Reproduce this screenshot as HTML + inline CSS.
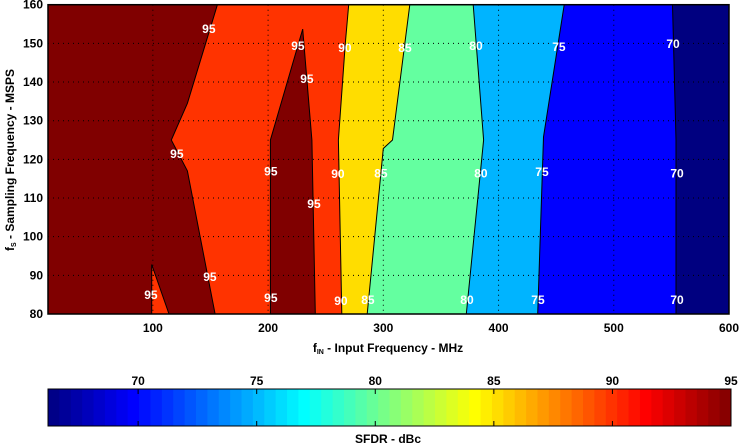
<!DOCTYPE html>
<html><head><meta charset="utf-8"><style>
body{margin:0;background:#fff;}
svg{display:block;font-family:"Liberation Sans",Arial,sans-serif;}
</style></head><body>
<svg id="c" width="739" height="445" xmlns="http://www.w3.org/2000/svg"></svg>
<script>
const xTicks=[100,200,300,400,500,600];
const yTicks=[80,90,100,110,120,130,140,150,160];
const cbTicks=[70,75,80,85,90,95];
// contour boundaries: [fin, fs] points, from fs=160 down to fs=80
const b95=[[156,160],[130,134.5],[116,125],[130,117],[154,80]];
const b90=[[270,160],[267,150],[261,125],[264,80]];
const b85=[[323,160],[308,125],[300,122.8],[286,80]];
const b80=[[378,160],[387,125],[372,80]];
const b75=[[457,160],[439,125.8],[434,80]];
const b70=[[551,160],[554,125],[554,80]];
const tri95=[[99,92.8],[114,80],[99,80]];
const spike95=[[202,80],[202,125],[230,153.7],[238,125],[241,80]];
const labelVals=[95,95,95,95,95,95,95,95,95,90,90,90,85,85,85,80,80,80,75,75,75,70,70,70];
const labelFin=[148.6,225.9,233.7,120.8,202.4,239.8,149.5,98.3,202.4,266.7,260.6,263.2,318.8,297.9,286.6,380.4,384.7,372.6,452.4,437.7,434.2,551.4,554.9,554.9];
const labelFs=[153.7,149.3,140.8,121.4,116.8,108.5,89.6,84.9,84.1,148.8,116.2,83.3,148.8,116.4,83.6,149.3,116.4,83.6,149.0,116.7,83.6,149.8,116.4,83.6];

const X0=48,X1=729,Y0=4.7,Y1=314,xmin=9,xmax=600,ymin=80,ymax=160;
const sx=v=>X0+(v-xmin)/(xmax-xmin)*(X1-X0);
const sy=v=>Y1-(v-ymin)/(ymax-ymin)*(Y1-Y0);
const cbMin=66.2,cbMax=95,CB0=48,CB1=731,CBT=389,CBB=426;
const cx=v=>CB0+(v-cbMin)/(cbMax-cbMin)*(CB1-CB0);
const svg=document.getElementById('c');
const NS='http://www.w3.org/2000/svg';
function mk(t,a,txt){const e=document.createElementNS(NS,t);for(const k in a)e.setAttribute(k,a[k]);if(txt!=null)e.textContent=txt;svg.appendChild(e);return e;}
function pts(arr){return arr.map(p=>sx(p[0]).toFixed(1)+','+sy(p[1]).toFixed(1)).join(' ');}
function leftPoly(b){return sx(xmin)+','+sy(160)+' '+pts(b)+' '+sx(xmin)+','+sy(80);}

let e=mk('rect',{x:X0,y:Y0,width:X1-X0,height:Y1-Y0,fill:'#000080'});


const bands=[[b70,'#0000ff','region-70-75'],[b75,'#00b4ff','region-75-80'],[b80,'#64ffa0','region-80-85'],[b85,'#ffdd00','region-85-90'],[b90,'#ff3300','region-90-95'],[b95,'#800000','region-above-95']];
bands.forEach(([b,c,n])=>{
  const p=mk('polygon',{points:leftPoly(b),fill:c,stroke:'#000','stroke-width':1});
  
  
});
e=mk('polygon',{points:pts(tri95),fill:'#ff3300',stroke:'#000','stroke-width':1});


e=mk('polygon',{points:pts(spike95),fill:'#800000',stroke:'#000','stroke-width':1});



// grid
xTicks.forEach(v=>{if(v<xmax){const g=mk('line',{x1:sx(v),x2:sx(v),y1:Y0,y2:Y1,stroke:'#000','stroke-width':1,'stroke-dasharray':'1,4'});

}});
yTicks.forEach(v=>{if(v>ymin&&v<ymax){const g=mk('line',{x1:X0,x2:X1,y1:sy(v),y2:sy(v),stroke:'#000','stroke-width':1,'stroke-dasharray':'1,4'});

}});

// contour labels
labelVals.forEach((v,i)=>{const t=mk('text',{x:sx(labelFin[i]),y:sy(labelFs[i])+4,'text-anchor':'middle','font-size':12,'font-weight':'bold',fill:'#fff'},v);

});

e=mk('rect',{x:X0,y:Y0,width:X1-X0,height:Y1-Y0,fill:'none',stroke:'#000','stroke-width':1.5});



xTicks.forEach(v=>{const t=mk('text',{x:sx(v),y:332,'text-anchor':'middle','font-size':12,'font-weight':'bold'},v);

});
yTicks.forEach(v=>{const t=mk('text',{x:43,y:sy(v)+4,'text-anchor':'end','font-size':12,'font-weight':'bold'},v);

});

e=mk('text',{x:388,y:352,'text-anchor':'middle','font-size':12,'font-weight':'bold'});
e.innerHTML='f<tspan font-size="7" dy="2">IN</tspan><tspan dy="-2"> - Input Frequency - MHz</tspan>';


e=mk('text',{x:0,y:0,'text-anchor':'middle','font-size':12,'font-weight':'bold',transform:'translate(14,160) rotate(-90)'});
e.innerHTML='f<tspan font-size="7" dy="2">S</tspan><tspan dy="-2"> - Sampling Frequency - MSPS</tspan>';



// colorbar
function jet(t){const r=Math.min(Math.max(1.5-Math.abs(4*t-3),0),1),g=Math.min(Math.max(1.5-Math.abs(4*t-2),0),1),b=Math.min(Math.max(1.5-Math.abs(4*t-1),0),1);return `rgb(${Math.round(r*255)},${Math.round(g*255)},${Math.round(b*255)})`;}
const N=60;
for(let i=0;i<N;i++){const a=CB0+i*(CB1-CB0)/N;const r=mk('rect',{x:a,y:CBT,width:(CB1-CB0)/N+0.5,height:CBB-CBT,fill:jet((i+0.5)/N)});

}
e=mk('rect',{x:CB0,y:CBT,width:CB1-CB0,height:CBB-CBT,fill:'none',stroke:'#000','stroke-width':1});


cbTicks.forEach(v=>{
  const t=mk('text',{x:cx(v),y:385,'text-anchor':'middle','font-size':12,'font-weight':'bold'},v);
  
  
  const l=mk('line',{x1:cx(v),x2:cx(v),y1:CBT,y2:CBT+5,stroke:'#000'});
  
  
  const l2=mk('line',{x1:cx(v),x2:cx(v),y1:CBB-5,y2:CBB,stroke:'#000'});
  
  
});
e=mk('text',{x:388,y:443,'text-anchor':'middle','font-size':12,'font-weight':'bold'},'SFDR - dBc');


</script>
</body></html>
